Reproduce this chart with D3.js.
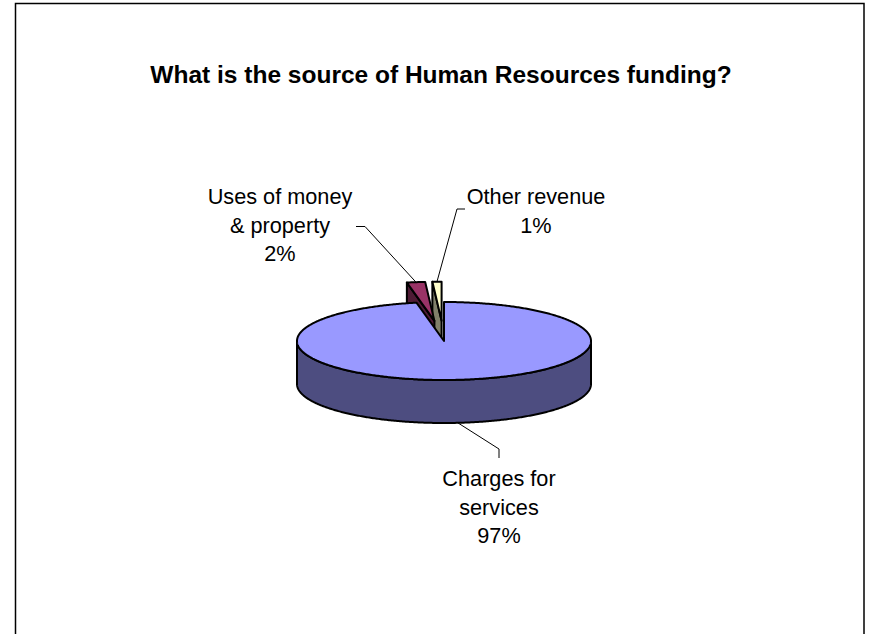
<!DOCTYPE html>
<html>
<head>
<meta charset="utf-8">
<script src="https://cdn.jsdelivr.net/npm/d3@7"></script>
<style>
  body { margin: 0; background: #fff; }
  svg { display: block; }
</style>
</head>
<body>
<svg id="chart" width="869" height="634"></svg>
<script>
// ---- data ----
const categories = ["Charges for services", "Uses of money & property", "Other revenue"];
const labelLines = [["Charges for", "services"], ["Uses of money", "& property"], ["Other revenue"]];
const shares = [97, 2, 1];
const exploded = [false, true, true];
const topColors = ["#9999FF", "#993366", "#FFFFCC"];
const sideColors = ["#4D4D80", "#4F1B35", "#80806A"];
const chartTitle = "What is the source of Human Resources funding?";

// ---- layout ----
const W = 869, H = 634;
const FONT = "Arial, 'Liberation Sans', Helvetica, sans-serif";
const cx = 444, cy = 341;          // centre of the top face
const rx = 147, ry = 39;           // ellipse radii of the top face
const depth = 43;                  // thickness of the disc
const explodeFrac = 0.52;          // radial pull-out of exploded slices
const lineH = 28.5;

// label blocks: centre x, first baseline, elbow points of the leader (label side first)
const labelLayout = [
  { x: 499, y: 486, leader: [[499, 458], [499, 449]] },
  { x: 280, y: 204, leader: [[356, 226.5], [365, 226.5]] },
  { x: 536, y: 204, leader: [[465, 209], [457, 209]] }
];

const svg = d3.select("#chart");

// chart frame
svg.append("rect")
  .attr("x", 15.5).attr("y", 3.5)
  .attr("width", 848.5).attr("height", 700)
  .attr("fill", "#fff").attr("stroke", "#000").attr("stroke-width", 1.5);

svg.append("text")
  .attr("x", 441).attr("y", 83)
  .attr("text-anchor", "middle")
  .attr("font-family", FONT).attr("font-weight", "bold").attr("font-size", 24.5)
  .attr("fill", "#000")
  .text(chartTitle);

// ---- pie geometry ----
const arcs = d3.pie().sort(null).value(d => d)(shares);
// d3.pie angles: radians, clockwise from 12 o'clock

arcs.forEach((a, i) => {
  a.index = i;
  a.mid = (a.startAngle + a.endAngle) / 2;
  const e = exploded[i] ? explodeFrac : 0;
  a.ox = e * rx * Math.sin(a.mid);
  a.oy = -e * ry * Math.cos(a.mid);
});

function pt(a, theta, r, dz) {
  return [cx + a.ox + r * rx * Math.sin(theta), cy + a.oy - r * ry * Math.cos(theta) + (dz || 0)];
}
function arcPts(a, t0, t1, dz) {
  const n = Math.max(2, Math.ceil(Math.abs(t1 - t0) / 0.01));
  const out = [];
  for (let k = 0; k <= n; k++) out.push(pt(a, t0 + (t1 - t0) * k / n, 1, dz));
  return out;
}
const poly = pts => "M" + pts.map(p => p[0].toFixed(2) + "," + p[1].toFixed(2)).join("L") + "Z";

// draw back-most slices first
const order = arcs.slice().sort((p, q) => Math.cos(q.mid) - Math.cos(p.mid));

const g = svg.append("g")
  .attr("stroke", "#000").attr("stroke-width", 2).attr("stroke-linejoin", "round");

order.forEach(a => {
  const i = a.index;
  const s = g.append("g");
  // outer wall: only the front half of the rim is visible
  const b0 = Math.max(a.startAngle, Math.PI / 2), b1 = Math.min(a.endAngle, 3 * Math.PI / 2);
  if (b1 > b0) {
    const pts = arcPts(a, b0, b1, 0).concat(arcPts(a, b1, b0, depth));
    s.append("path").attr("d", poly(pts)).attr("fill", sideColors[i]);
  }
  // radial walls facing the viewer
  const wall = t => [pt(a, t, 0, 0), pt(a, t, 1, 0), pt(a, t, 1, depth), pt(a, t, 0, depth)];
  if (Math.sin(a.startAngle) < -1e-9) s.append("path").attr("d", poly(wall(a.startAngle))).attr("fill", sideColors[i]);
  if (Math.sin(a.endAngle) > 1e-9) s.append("path").attr("d", poly(wall(a.endAngle))).attr("fill", sideColors[i]);
  // top face
  s.append("path")
    .attr("d", poly([pt(a, 0, 0, 0)].concat(arcPts(a, a.startAngle, a.endAngle, 0))))
    .attr("fill", topColors[i]);
});

// ---- labels and leader lines ----
arcs.forEach(a => {
  const i = a.index, L = labelLayout[i];
  const front = Math.cos(a.mid) < 0;
  const anchor = pt(a, a.mid, 1, front ? depth : 0);
  svg.append("path")
    .attr("d", d3.line()(L.leader.concat([anchor])))
    .attr("fill", "none").attr("stroke", "#000").attr("stroke-width", 1);

  const lines = labelLines[i].concat([d3.format(".0f")(a.value) + "%"]);
  const t = svg.append("text")
    .attr("font-family", FONT).attr("font-size", 21.7).attr("fill", "#000")
    .attr("text-anchor", "middle");
  lines.forEach((ln, k) => {
    t.append("tspan").attr("x", L.x).attr("y", L.y + k * lineH).text(ln);
  });
});
</script>
</body>
</html>
